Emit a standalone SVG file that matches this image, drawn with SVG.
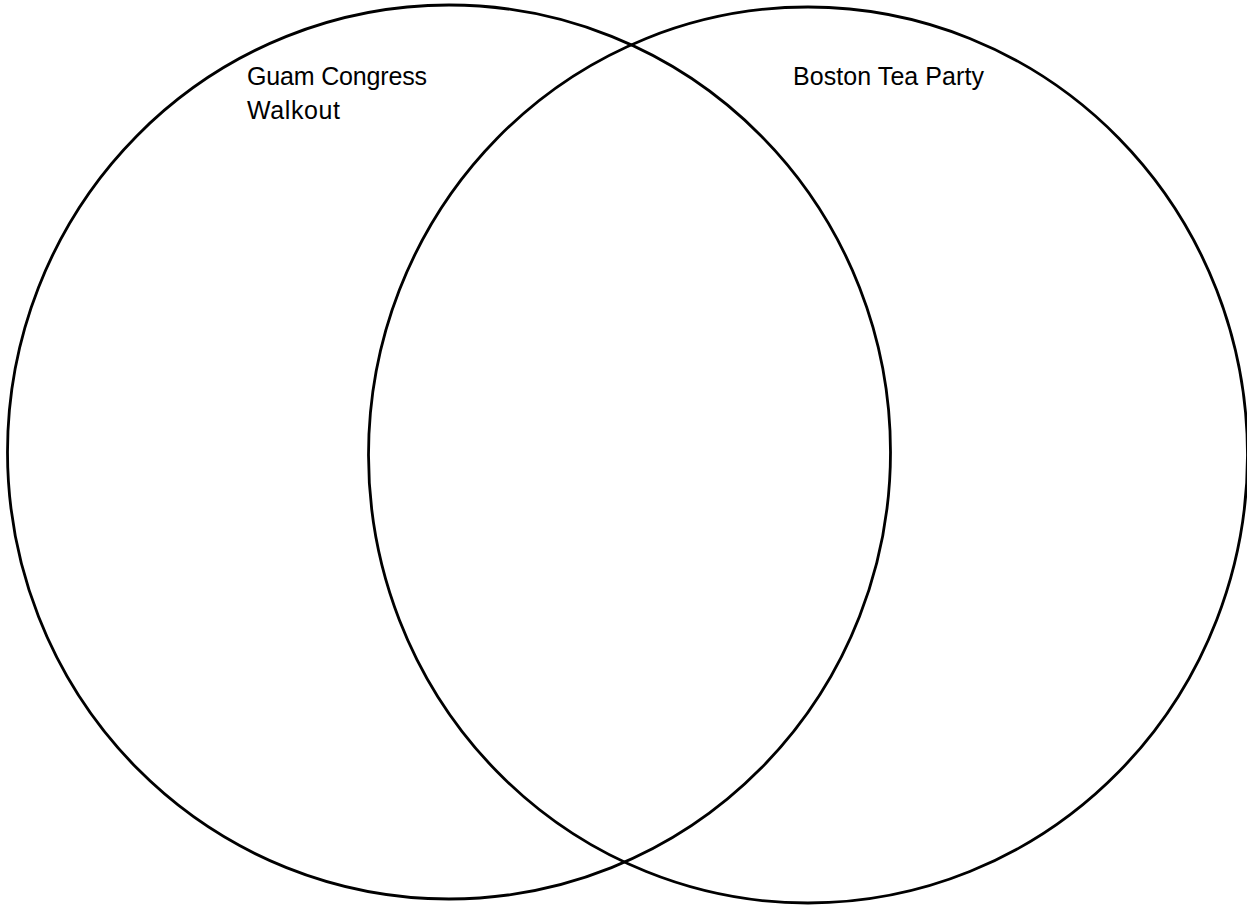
<svg xmlns="http://www.w3.org/2000/svg" width="1247" height="909" viewBox="0 0 1247 909">
<style>
.c{fill:none;stroke:#000;stroke-width:2.8}
.t{font-family:"Liberation Sans",Arial,sans-serif;font-size:25px;fill:#000}
</style>
<rect width="1247" height="909" fill="#fff"/>
<g id="left-set">
<ellipse class="c" cx="449" cy="452" rx="441.5" ry="447"/>
<text class="t" x="247" y="85" textLength="180" lengthAdjust="spacing">Guam Congress</text>
<text class="t" x="247" y="119" textLength="93" lengthAdjust="spacing">Walkout</text>
</g>
<g id="right-set">
<ellipse class="c" cx="808" cy="455" rx="439.5" ry="448"/>
<text class="t" x="793" y="85" textLength="191" lengthAdjust="spacing">Boston Tea Party</text>
</g>
<g id="connectors"></g>
</svg>
